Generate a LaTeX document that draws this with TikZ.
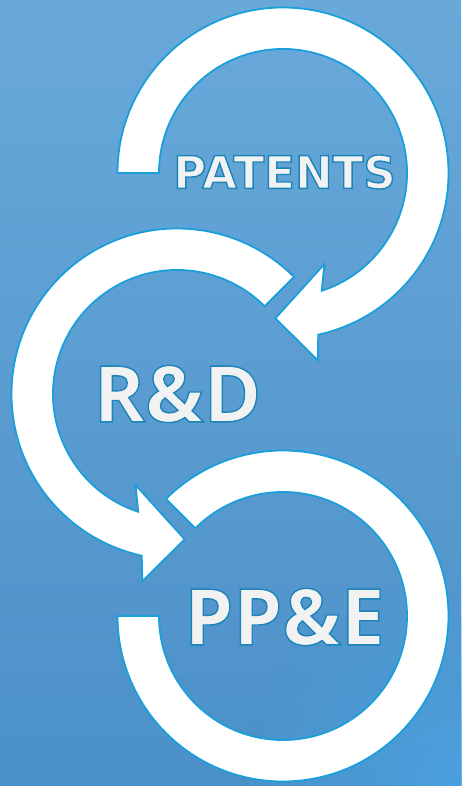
\documentclass[tikz,border=0pt]{standalone}
\usepackage{fontspec}
\usetikzlibrary{fadings}
\newfontfamily\patfont{DejaVu Sans}
\newfontfamily\bigfont{Open Sans}
\definecolor{bgtop}{HTML}{69A9DA}
\definecolor{bgmid}{HTML}{4B87B7}
\definecolor{bgbot}{HTML}{4B90C8}
\definecolor{glow}{HTML}{4AA3E2}
\definecolor{ringline}{HTML}{1A9FDB}
\definecolor{labelfill}{HTML}{F2F2F2}
% outlined lettering: fill in the current colour, stroke in blue
\newcommand\outlined[1]{%
  \special{pdf:code 0.106 0.518 0.722 RG 2 Tr 1.4 w}#1\special{pdf:code 0 Tr}}
\tikzfading[name=softglow, inner color=transparent!0, outer color=transparent!100]

\begin{document}
\begin{tikzpicture}[x=1pt,y=1pt,
  ring/.style={fill=white, draw=ringline, line width=1.8pt, line join=miter},
  captext/.style={text=labelfill, inner sep=0pt, anchor=center}]
\useasboundingbox (0,0) rectangle (461,786);

% background
\shade[top color=bgtop, middle color=bgmid, bottom color=bgbot] (0,0) rectangle (461,786);
\fill[glow, path fading=softglow, opacity=0.9] (470,-10) circle (230);

% ring centres
\coordinate (c1) at (283,613);
\coordinate (c2) at (177,392);
\coordinate (c3) at (283,170);

% lower ring, open at the left
\draw[ring, shift={(c3)}]
  (135:165.5) arc[start angle=135, end angle=-180, radius=165.5]
  -- (180:124) arc[start angle=-180, end angle=135, radius=124] -- cycle;

% middle ring, arrow pointing into the lower ring
\draw[ring, shift={(c2)}]
  (45:165.5) arc[start angle=45, end angle=257.7, radius=165.5]
  -- (259.5:190.5) -- (273:145.5) -- (245.5:100) -- (251.8:124)
  arc[start angle=251.8, end angle=45, radius=124] -- cycle;

% upper ring, arrow pointing into the middle ring
\draw[ring, shift={(c1)}]
  (180:165.5) arc[start angle=180, end angle=-77.7, radius=165.5]
  -- (-79.5:190.5) -- (-93:145.5) -- (-65.5:100) -- (-71.8:124)
  arc[start angle=-71.8, end angle=180, radius=124] -- cycle;

% labels
\node[captext, font=\patfont\bfseries\fontsize{45}{45}\selectfont]
  (patents) at (284.5,614) {\outlined{PATENTS}};
\node[captext, font=\bigfont\bfseries\fontsize{78}{78}\selectfont]
  (rd) at (177.5,392) {\outlined{R\&D}};
\node[captext, font=\bigfont\bfseries\fontsize{78}{78}\selectfont]
  (ppe) at (284.5,169) {\outlined{PP\&E}};
\end{tikzpicture}
\end{document}
